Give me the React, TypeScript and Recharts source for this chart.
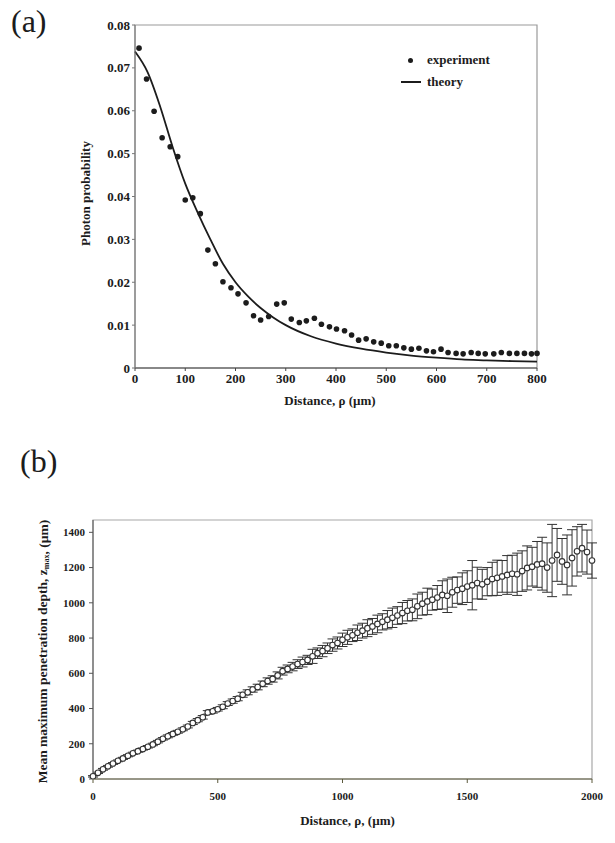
import React from "react";
import { ComposedChart, ScatterChart, Scatter, Line, XAxis, YAxis, ErrorBar, ReferenceArea } from "recharts";

// ---- panel (a): photon probability vs distance ----
const expRho = [8, 23, 38, 54, 70, 85, 100, 115, 130, 145, 160, 175, 191, 205, 221, 236, 250, 266,
  282, 297, 311, 327, 341, 357, 371, 387, 401, 417, 431, 445, 460, 475, 490, 505, 520, 535,
  550, 565, 580, 594, 609, 623, 639, 653, 669, 683, 697, 714, 729, 745, 760, 775, 789, 800];
const expProb = [0.0746, 0.0674, 0.0599, 0.0537, 0.0516, 0.0493, 0.0392, 0.0397, 0.036, 0.0275, 0.0243, 0.0201,
  0.0187, 0.0173, 0.0152, 0.0122, 0.0112, 0.012, 0.0149, 0.0152, 0.0114, 0.0106, 0.011, 0.0116,
  0.0102, 0.0096, 0.0091, 0.0087, 0.0077, 0.0065, 0.0068, 0.0061, 0.0058, 0.0052, 0.0052, 0.0047,
  0.0044, 0.0046, 0.004, 0.0038, 0.0044, 0.0036, 0.0034, 0.0033, 0.0036, 0.0034, 0.0033, 0.0033,
  0.0036, 0.0034, 0.0034, 0.0034, 0.0033, 0.0034];
const theoryRho = [0, 25, 50, 75, 100, 125, 150, 175, 200, 225, 250, 275, 300, 350, 400, 450, 500, 550, 600, 650, 700, 750, 800];
const theoryProb = [0.0738, 0.069, 0.061, 0.0515, 0.043, 0.0362, 0.03, 0.0243, 0.02, 0.0167, 0.014, 0.0118,
  0.01, 0.0074, 0.0057, 0.0045, 0.0036, 0.0029, 0.0024, 0.002, 0.0018, 0.0016, 0.0015];
const probTicks = [0, 0.01, 0.02, 0.03, 0.04, 0.05, 0.06, 0.07, 0.08];
const rhoTicksA = [0, 100, 200, 300, 400, 500, 600, 700, 800];

// ---- panel (b): mean maximum penetration depth ----
const rhoB = [
  0, 20, 40, 60, 80, 100, 120, 140, 160, 180,
  200, 220, 240, 260, 280, 300, 320, 340, 360, 380,
  400, 420, 440, 460, 480, 500, 520, 540, 560, 580,
  600, 620, 640, 660, 680, 700, 720, 740, 760, 780,
  800, 820, 840, 860, 880, 900, 920, 940, 960, 980,
  1000, 1020, 1040, 1060, 1080, 1100, 1120, 1140, 1160, 1180,
  1200, 1220, 1240, 1260, 1280, 1300, 1320, 1340, 1360, 1380,
  1400, 1420, 1440, 1460, 1480, 1500, 1520, 1540, 1560, 1580,
  1600, 1620, 1640, 1660, 1680, 1700, 1720, 1740, 1760, 1780,
  1800, 1820, 1840, 1860, 1880, 1900, 1920, 1940, 1960, 1980,
  2000,
];
const zMean = [
  15, 35, 55, 72, 88, 103, 117, 132, 146, 158,
  170, 183, 196, 212, 228, 242, 256, 268, 282, 298,
  318, 334, 350, 378, 384, 396, 410, 428, 442, 456,
  478, 492, 508, 522, 540, 556, 568, 588, 612, 625,
  638, 652, 664, 676, 696, 714, 726, 742, 760, 772,
  790, 804, 816, 830, 842, 856, 866, 880, 892, 904,
  915, 928, 942, 955, 960, 980, 995, 1008, 1018, 1030,
  1045, 1040, 1060, 1072, 1080, 1092, 1100, 1112, 1105, 1120,
  1135, 1142, 1150, 1158, 1165, 1162, 1180, 1198, 1205, 1218,
  1222, 1200, 1240, 1272, 1235, 1215, 1255, 1292, 1310, 1288,
  1240,
];
const zErr = [
  4, 4, 5, 5, 5, 5, 6, 6, 6, 6,
  6, 7, 7, 7, 7, 8, 8, 8, 8, 8,
  9, 9, 10, 10, 10, 10, 11, 11, 12, 12,
  14, 14, 15, 16, 16, 18, 18, 20, 22, 22,
  24, 25, 28, 26, 40, 30, 32, 30, 35, 34,
  38, 40, 36, 44, 42, 48, 45, 50, 46, 52,
  55, 50, 60, 58, 62, 70, 65, 75, 60, 68,
  80, 95, 85, 75, 90, 90, 140, 90, 85, 80,
  95, 100, 90, 110, 105, 120, 115, 125, 110, 130,
  150, 140, 205, 150, 130, 170, 160, 140, 135, 125,
  100,
];
const depthTicks = [0, 200, 400, 600, 800, 1000, 1200, 1400];
const rhoTicksB = [0, 500, 1000, 1500, 2000];

const expData = expRho.map((x, i) => ({ x, y: expProb[i] }));
const theoryData = theoryRho.map((x, i) => ({ x, y: theoryProb[i] }));
const depthData = rhoB.map((rho, i) => ({ rho, z: zMean[i], err: zErr[i] }));

const FONT = "'Liberation Serif', 'DejaVu Serif', serif";
const INK = "#1c1c1c";

const tickA = { fill: INK, fontSize: 13, fontWeight: 700, fontFamily: FONT };
const tickB = { fill: INK, fontSize: 11, fontWeight: 700, fontFamily: FONT };

const renderDepthLabel = ({ viewBox }: any) => {
  const cx = viewBox.x + viewBox.width / 2 - 4;
  const cy = viewBox.y + viewBox.height / 2 + 2;
  return (
    <text x={cx} y={cy} transform={`rotate(-90 ${cx} ${cy})`} textAnchor="middle" dominantBaseline="central"
      fill={INK} fontSize={13.5} fontWeight={700} fontFamily={FONT}>
      Mean maximum penetration depth, z
      <tspan dy={3} fontSize={8}>max</tspan>
      <tspan dy={-3}>, (µm)</tspan>
    </text>
  );
};

export default function App() {
  return (
    <div style={{ position: "absolute", left: 0, top: 0, width: 615, height: 843, background: "#fff", fontFamily: FONT }}>
      <div style={{ position: "absolute", left: 11, top: 3, fontSize: 32, color: INK }}>(a)</div>
      <div style={{ position: "absolute", left: 20, top: 443, fontSize: 32, color: INK }}>(b)</div>

      {/* legend of panel (a) */}
      <div style={{ position: "absolute", left: 399, top: 49, fontSize: 13, fontWeight: 700, color: INK, lineHeight: "22px" }}>
        <div style={{ display: "flex", alignItems: "center" }}>
          <span style={{ width: 22, display: "inline-flex", justifyContent: "center" }}>
            <span style={{ width: 5, height: 5, borderRadius: 3, background: INK, display: "inline-block" }} />
          </span>
          <span style={{ marginLeft: 6 }}>experiment</span>
        </div>
        <div style={{ display: "flex", alignItems: "center" }}>
          <span style={{ width: 20, height: 2, background: INK, display: "inline-block", marginLeft: 2 }} />
          <span style={{ marginLeft: 6 }}>theory</span>
        </div>
      </div>

      <div style={{ position: "absolute", left: 0, top: 0 }}>
        <ComposedChart width={615} height={420} margin={{ top: 25, right: 78, left: 0, bottom: 0 }}>
          <ReferenceArea x1={0} x2={800} y1={0} y2={0.08} fill="none" stroke="#9a9a9a" strokeWidth={1.2} />
          <XAxis dataKey="x" type="number" domain={[0, 800]} ticks={rhoTicksA} height={52}
            tick={tickA} tickSize={3} tickMargin={3} stroke="#444"
            label={{ value: "Distance, ρ (µm)", position: "center", dx: -6, dy: 6, fill: INK, fontSize: 13, fontWeight: 700, fontFamily: FONT }} />
          <YAxis type="number" domain={[0, 0.08]} ticks={probTicks} width={135} allowDataOverflow
            tick={tickA} tickSize={3} tickMargin={2} stroke="#777"
            tickFormatter={(v: number) => (v === 0 ? "0" : v.toFixed(2))}
            label={{ value: "Photon probability", angle: -90, position: "center", dx: 18, dy: -3, fill: INK, fontSize: 13, fontWeight: 700, fontFamily: FONT }} />
          <Line data={theoryData} dataKey="y" type="monotone" stroke={INK} strokeWidth={1.8} dot={false}
            activeDot={false} isAnimationActive={false} />
          <Scatter data={expData} dataKey="y" fill={INK} isAnimationActive={false}
            shape={(p: any) => <circle cx={p.cx} cy={p.cy} r={2.8} fill={INK} />} />
        </ComposedChart>
      </div>

      <div style={{ position: "absolute", left: 0, top: 420 }}>
        <ScatterChart width={615} height={423} margin={{ top: 100, right: 23, left: 0, bottom: 0 }}>
          <ReferenceArea x1={0} x2={2000} y1={0} y2={1470} fill="none" stroke="#a8a8a8" strokeWidth={1.2} />
          <XAxis dataKey="rho" type="number" domain={[0, 2000]} ticks={rhoTicksB} height={64}
            tick={tickB} tickSize={4} tickMargin={9} stroke="#5c5a3c"
            label={{ value: "Distance, ρ, (µm)", position: "center", dx: 5, dy: 9, fill: INK, fontSize: 13, fontWeight: 700, fontFamily: FONT }} />
          <YAxis dataKey="z" type="number" domain={[0, 1470]} ticks={depthTicks} width={93} allowDataOverflow
            tick={tickB} tickSize={4} tickMargin={4} stroke="#555" label={renderDepthLabel} />
          <Scatter data={depthData} dataKey="z" isAnimationActive={false}
            shape={(p: any) => <circle cx={p.cx} cy={p.cy} r={2.8} fill="#fff" stroke="#333" strokeWidth={1.1} />}>
            <ErrorBar dataKey="err" direction="y" width={5} stroke="#333" strokeWidth={1} isAnimationActive={false} />
          </Scatter>
        </ScatterChart>
      </div>
    </div>
  );
}
